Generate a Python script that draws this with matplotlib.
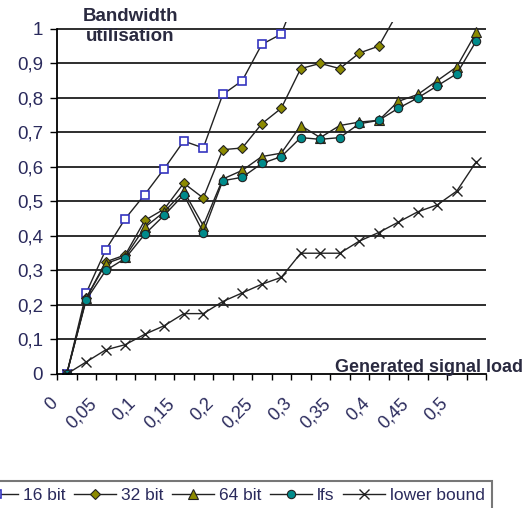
import matplotlib
matplotlib.use('Agg')
import matplotlib.pyplot as plt
import matplotlib.transforms as mtransforms
import numpy as np

plt.rcParams['font.family'] = ['Liberation Sans', 'DejaVu Sans']

# generated signal load (categories)
load = [0, 0.025, 0.05, 0.075, 0.1, 0.125, 0.15, 0.175, 0.2, 0.225, 0.25,
        0.275, 0.3, 0.325, 0.35, 0.375, 0.4, 0.425, 0.45, 0.475, 0.5, 0.525]
load_labels = ['0', '0,05', '0,1', '0,15', '0,2', '0,25', '0,3', '0,35', '0,4', '0,45', '0,5']

nan = np.nan
bit16 = [0, 0.235, 0.36, 0.45, 0.52, 0.595, 0.675, 0.655, 0.81, 0.85, 0.955,
         0.985, 1.13, nan, nan, nan, nan, nan, nan, nan, nan, nan]
bit32 = [0, 0.22, 0.325, 0.345, 0.445, 0.478, 0.553, 0.51, 0.65, 0.655, 0.725,
         0.77, 0.885, 0.90, 0.885, 0.93, 0.95, 1.05, nan, nan, nan, nan]
bit64 = [0, 0.22, 0.32, 0.34, 0.425, 0.47, 0.53, 0.43, 0.565, 0.59, 0.63,
         0.64, 0.72, 0.685, 0.72, 0.73, 0.735, 0.79, 0.81, 0.85, 0.89, 0.99]
lfs = [0, 0.215, 0.30, 0.335, 0.405, 0.46, 0.52, 0.41, 0.56, 0.57, 0.61,
       0.63, 0.685, 0.68, 0.685, 0.725, 0.735, 0.77, 0.80, 0.835, 0.87, 0.965]
lower = [0, 0.035, 0.07, 0.085, 0.115, 0.14, 0.175, 0.175, 0.21, 0.235, 0.26,
         0.28, 0.35, 0.35, 0.35, 0.385, 0.41, 0.44, 0.47, 0.49, 0.53, 0.615]

TXT = '#2a2a5c'

fig = plt.figure(figsize=(5.3, 5.08), dpi=100)
ax = fig.add_axes([57/530, 1 - 374/508, (486 - 57)/530, 352/508])

x = np.arange(len(load))
ax.plot(x, bit16, color='#222222', lw=1, marker='s', ms=6, mfc='white',
        mec='#3535c0', mew=1.2, label='16 bit')
ax.plot(x, bit32, color='#222222', lw=1, marker='D', ms=5.5, mfc='#8c8a00',
        mec='#222222', mew=0.8, label='32 bit')
ax.plot(x, bit64, color='#222222', lw=1, marker='^', ms=6.5, mfc='#8c8a00',
        mec='#222222', mew=0.8, label='64 bit')
ax.plot(x, lfs, color='#222222', lw=1, marker='o', ms=6, mfc='#008b8b',
        mec='#222222', mew=0.8, label='lfs')
ax.plot(x, lower, color='#222222', lw=1, marker='x', ms=7, mec='#222222',
        mew=1, label='lower bound')

ax.set_xlim(-0.5, len(load) - 0.5)
ax.set_ylim(0, 1.02)

for y in np.arange(0.1, 1.01, 0.1):
    ax.axhline(y, color='#2e2e2e', lw=1.4, zorder=0.5)

ax.set_yticks(np.arange(0, 1.01, 0.1))
ax.set_yticklabels(['0', '0,1', '0,2', '0,3', '0,4', '0,5', '0,6', '0,7', '0,8', '0,9', '1'])
ax.tick_params(axis='y', direction='out', length=5, width=1, pad=5,
               labelsize=13.5, labelcolor=TXT)

ax.set_xticks(np.arange(-0.5, len(load), 1.0))
ax.set_xticklabels([])
ax.set_xticks(np.arange(0, len(load), 2), minor=True)
ax.set_xticklabels(load_labels, minor=True, rotation=45, ha='right')
ax.tick_params(axis='x', which='major', direction='out', length=4, width=1)
ax.tick_params(axis='x', which='minor', length=0, pad=15, labelsize=13,
               labelcolor=TXT)
off = mtransforms.ScaledTranslation(-6/100, 0, fig.dpi_scale_trans)
for lab in ax.xaxis.get_minorticklabels():
    lab.set_transform(lab.get_transform() + off)

for s in ['top', 'right']:
    ax.spines[s].set_visible(False)
ax.spines['left'].set_bounds(0, 1)
ax.spines['left'].set_linewidth(1.3)
ax.spines['bottom'].set_linewidth(1.3)

fig.text(130/530, 1 - 8/508, 'Bandwidth\nutilisation', ha='center', va='top',
         fontsize=13.5, fontweight='bold', color='#2a2a40', linespacing=1.25)
fig.text(523/530, 1 - 372/508, 'Generated signal load', ha='right', va='baseline',
         fontsize=13, fontweight='bold', color='#2a2a40')

leg = fig.legend(loc='upper right', bbox_to_anchor=(492/530, 1 - 481/508),
                 ncol=5, fontsize=12.5, frameon=True, fancybox=False,
                 numpoints=1, handlelength=2.4, handletextpad=0.3,
                 columnspacing=0.5, borderpad=0.4, borderaxespad=0)
leg.get_frame().set_edgecolor('#555555')
leg.get_frame().set_linewidth(1.5)
for t in leg.get_texts():
    t.set_color(TXT)

plt.savefig('out.png', dpi=100)
